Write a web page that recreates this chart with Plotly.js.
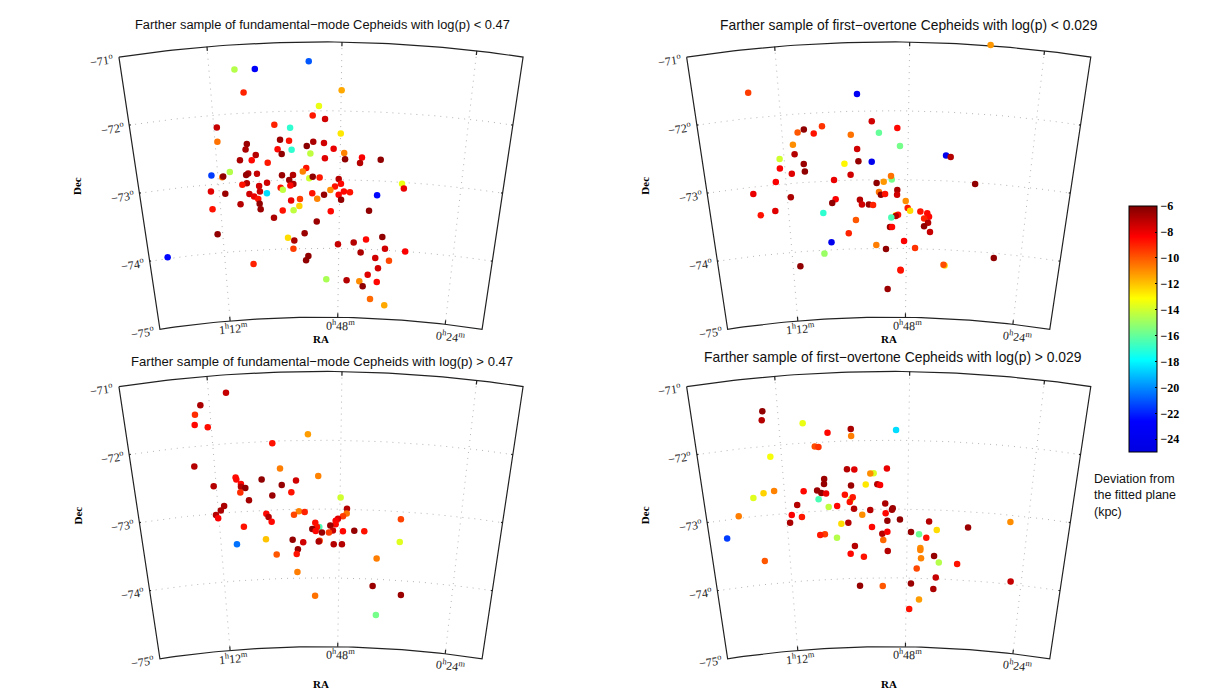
<!DOCTYPE html>
<html>
<head>
<meta charset="utf-8">
<script src="https://cdn.plot.ly/plotly-3.0.1.min.js"></script>
<style>body{margin:0;background:#fff}</style>
</head>
<body>
<div id="chart" style="width:1207px;height:700px"></div>
<script>
// RA in degrees, Dec in degrees, deviation in kpc
const raA = [17.05,16.08,13.51,16.68,11.93,13.03,13.34,12.73,15.25,14.47,18.11,11.94,18.14,16.67,14.99,14.54,13.32,12.78,13.65,16.75,15.13,14.42,12.29,11.75,13.47,14.93,16.25,17.07,16.47,12.73,11.70,10.84,9.88,10.93,15.66,13.69,13.87,17.63,18.59,18.04,17.99,16.69,16.80,16.24,14.95,14.38,14.58,13.54,13.36,13.00,12.01,11.89,12.20,8.71,8.60,16.79,17.03,16.16,15.74,14.37,14.53,15.04,14.93,18.69,17.95,16.13,16.69,15.77,16.45,13.39,12.77,12.44,12.00,11.73,11.41,9.98,13.13,16.24,14.51,14.04,11.87,18.69,17.19,16.18,16.14,15.45,14.97,14.08,14.39,12.41,10.37,13.16,18.54,13.82,14.73,14.39,14.45,12.00,11.14,10.47,9.59,9.41,10.74,8.29,9.92,9.15,9.74,13.63,13.76,21.39,16.69,12.63,11.48,10.76,10.30,9.77,10.56,10.11,9.27];
const decA = [-71.36,-71.37,-71.28,-71.70,-71.70,-71.93,-72.07,-72.12,-72.19,-72.24,-72.18,-72.33,-72.39,-72.45,-72.41,-72.43,-72.45,-72.47,-72.51,-72.53,-72.55,-72.56,-72.55,-72.61,-72.62,-72.62,-72.62,-72.68,-72.69,-72.69,-72.70,-72.67,-72.69,-72.75,-72.74,-72.83,-72.88,-72.84,-72.87,-72.91,-72.90,-72.88,-72.90,-72.89,-72.93,-72.93,-73.00,-72.98,-72.96,-72.97,-72.99,-73.06,-73.10,-73.02,-73.09,-73.02,-73.04,-73.07,-73.03,-73.06,-73.08,-73.11,-73.14,-73.10,-73.15,-73.15,-73.18,-73.18,-73.22,-73.20,-73.22,-73.15,-73.22,-73.17,-73.18,-73.21,-73.28,-73.26,-73.30,-73.28,-73.29,-73.36,-73.32,-73.33,-73.41,-73.54,-73.44,-73.38,-73.44,-73.46,-73.44,-73.61,-73.73,-73.78,-73.84,-73.88,-74.00,-73.94,-73.91,-73.86,-73.81,-73.98,-74.05,-74.00,-74.12,-74.15,-74.27,-74.11,-74.17,-73.98,-74.20,-74.45,-74.46,-74.47,-74.37,-74.47,-74.54,-74.72,-74.80];
const devA = [-14.5,-23,-21,-9,-11.5,-13.5,-8.8,-7.5,-9,-17,-7.3,-12.7,-10.5,-6.5,-6.5,-8.7,-6.8,-7.5,-6.2,-6.8,-8.5,-17,-8,-10.8,-14.3,-6.3,-7,-6.8,-8.5,-7.8,-6.3,-8.3,-6.3,-7,-8.8,-8.7,-10.8,-14.5,-21.5,-10.5,-6.3,-6.8,-6.4,-7.3,-6.5,-7,-6.5,-14,-6.3,-8.8,-7,-8.5,-8.7,-13.5,-8,-7,-8.7,-7.5,-7.5,-6.8,-8.5,-8.7,-14.3,-7.8,-6.5,-7.3,-7.5,-18.5,-8,-8.7,-6.4,-11,-8.3,-8.5,-8.7,-22.5,-10.8,-8.7,-8,-9.5,-6.3,-8.7,-7,-6.3,-6.5,-6.8,-8.7,-12.3,-14.3,-8.5,-6.3,-6.5,-6.3,-6.5,-12.5,-6.8,-9.5,-7.3,-7,-8.5,-6.3,-7.5,-6.8,-8.3,-7.5,-9.7,-7.5,-6.3,-6.3,-22.5,-9,-14.7,-7,-11,-7.8,-8.5,-6.3,-10.3,-11.5];

const raB = [8.17,19.72,14.47,13.77,12.50,16.25,17.16,17.48,16.68,14.83,13.42,17.76,12.36,14.53,17.71,10.01,9.77,18.49,14.48,13.80,15.20,17.28,18.52,17.25,17.93,14.90,12.77,12.81,15.77,18.79,13.19,13.56,8.43,12.48,12.49,13.44,13.34,13.12,20.02,18.08,12.03,15.73,15.92,14.45,14.35,13.98,13.76,11.92,11.79,11.24,10.87,18.96,19.75,16.42,10.77,11.03,12.55,12.43,12.55,12.79,14.69,10.81,11.02,12.86,12.75,10.69,15.10,12.09,16.06,13.61,13.08,11.48,16.48,7.11,17.86,9.81,9.87,12.27,12.26,12.99];
const decB = [-70.99,-71.63,-71.75,-72.15,-72.25,-72.20,-72.23,-72.27,-72.30,-72.34,-72.32,-72.44,-72.51,-72.55,-72.58,-72.63,-72.65,-72.63,-72.73,-72.74,-72.76,-72.73,-72.77,-72.84,-72.86,-72.92,-73.00,-72.95,-72.99,-72.96,-73.03,-73.05,-73.02,-73.15,-73.22,-73.18,-73.22,-73.21,-73.10,-73.20,-73.31,-73.27,-73.32,-73.29,-73.36,-73.36,-73.37,-73.41,-73.45,-73.46,-73.48,-73.38,-73.42,-73.46,-73.53,-73.56,-73.52,-73.51,-73.53,-73.55,-73.58,-73.62,-73.67,-73.69,-73.69,-73.75,-73.77,-73.89,-73.89,-73.95,-74.01,-73.99,-74.05,-74.07,-74.21,-74.23,-74.22,-74.31,-74.32,-74.59];
const devB = [-11.2,-9.5,-23.5,-7.5,-8.5,-9.3,-6.3,-10,-8.7,-10.5,-16,-11,-15.7,-7.5,-7,-24,-7,-14,-6.4,-24,-13,-6.5,-8.3,-6.3,-7.8,-7.5,-15.7,-10.5,-8,-8.3,-11.2,-6.3,-6.3,-6.8,-7.5,-10.5,-6.3,-8.7,-8,-6.8,-11,-8.3,-6.3,-7,-7.5,-6.5,-9,-8.8,-12.5,-8.7,-8.5,-7.8,-8.7,-17,-8.5,-9,-12.5,-8.7,-7,-16.5,-10,-7,-6.3,-6.5,-8.5,-7.3,-9,-8.3,-24,-10.7,-6.3,-9.3,-15,-6.3,-6.3,-12.5,-9.8,-8.5,-8.7,-6.5];

const raC = [17.43,18.69,18.99,19.05,18.43,13.57,15.33,19.27,14.99,13.07,14.20,15.94,17.25,17.22,17.00,17.01,16.79,17.06,18.39,14.93,14.45,15.43,16.64,11.92,17.94,18.13,18.40,18.30,15.78,15.67,15.52,16.99,14.08,14.34,13.78,11.58,11.59,11.78,12.04,12.16,12.16,12.44,8.75,13.02,13.23,13.14,13.39,13.21,12.88,12.30,12.51,11.77,11.17,10.64,14.44,15.86,13.88,17.42,13.00,13.05,12.25,11.81,8.73,15.32,14.17,14.24,9.92,14.22,10.07,8.47,13.26,9.81];
const decC = [-71.26,-71.41,-71.54,-71.69,-71.74,-71.91,-72.03,-72.29,-72.40,-72.52,-72.58,-72.55,-72.50,-72.53,-72.60,-72.64,-72.66,-72.72,-72.60,-72.64,-72.75,-72.79,-72.84,-72.83,-72.90,-72.96,-73.02,-73.07,-73.05,-73.10,-73.17,-73.22,-73.03,-73.08,-73.04,-72.99,-73.06,-73.10,-73.14,-73.17,-73.22,-73.24,-73.11,-73.26,-73.20,-73.26,-73.29,-73.32,-73.34,-73.31,-73.34,-73.32,-73.31,-73.31,-73.44,-73.42,-73.48,-73.47,-73.46,-73.47,-73.51,-73.51,-73.44,-73.65,-73.58,-73.65,-73.70,-73.91,-74.10,-74.21,-74.26,-74.52];
const devC = [-7.3,-6.8,-9.2,-8.5,-8.6,-11.3,-8.7,-7,-10.7,-10.8,-7.5,-6.3,-8.6,-8.5,-8.5,-7,-6.3,-9.2,-7,-6.4,-8.7,-6.5,-6.7,-14,-6.8,-6.8,-7,-8.3,-8.5,-7,-8.5,-8.7,-10.8,-9.7,-9,-7,-10.5,-9.5,-7.7,-8.3,-8.5,-6.5,-9.6,-16.5,-8.6,-8.7,-6.3,-8.5,-6.5,-7.3,-9.5,-8.5,-6.4,-8.7,-6.4,-12,-7.5,-20.5,-9.7,-6.8,-7,-7,-13.7,-10,-6.5,-8.7,-10.7,-10.7,-6.5,-6.5,-10.5,-15.7];

const raD = [18.99,19.06,17.10,15.92,14.78,14.77,12.57,16.58,16.40,18.81,15.03,14.66,13.02,13.69,13.86,16.20,16.22,14.85,14.10,13.51,13.37,18.78,19.33,19.87,17.28,16.59,16.38,16.14,15.18,14.87,14.78,14.94,16.54,17.66,16.04,15.60,14.73,13.89,13.11,12.72,12.76,13.09,14.31,20.73,17.98,17.46,18.10,15.42,15.05,13.00,12.34,10.81,6.56,8.75,13.81,10.39,11.75,11.32,13.27,13.00,10.93,16.31,16.56,15.68,21.48,13.22,14.74,14.98,14.27,12.98,11.23,11.23,10.48,11.18,10.21,9.21,19.63,11.40,10.34,6.22,14.52,13.26,11.70,10.45,11.23,11.77];
const decD = [-71.49,-71.62,-71.71,-71.87,-71.83,-71.93,-71.85,-72.06,-72.07,-72.16,-72.41,-72.42,-72.41,-72.48,-72.48,-72.54,-72.61,-72.65,-72.64,-72.64,-72.65,-72.66,-72.68,-72.73,-72.70,-72.70,-72.74,-72.75,-72.78,-72.85,-72.82,-72.89,-72.83,-72.89,-72.95,-72.94,-72.99,-73.01,-72.92,-72.99,-73.01,-73.06,-73.08,-72.97,-73.03,-73.07,-73.14,-73.20,-73.19,-73.17,-73.15,-73.17,-73.10,-73.23,-73.26,-73.29,-73.33,-73.36,-73.36,-73.33,-73.41,-73.34,-73.35,-73.40,-73.27,-73.45,-73.53,-73.64,-73.69,-73.61,-73.56,-73.59,-73.67,-73.71,-73.76,-73.77,-73.66,-73.86,-73.98,-73.96,-74.11,-74.12,-74.08,-74.15,-74.31,-74.45];
const devD = [-6.3,-7,-13.5,-8.5,-6.8,-10.7,-18.5,-9.8,-9.3,-13.3,-7,-7.8,-8,-13.8,-11,-6.5,-6.4,-6.5,-12.7,-7,-8.3,-10.8,-12.3,-13.7,-8.5,-6.5,-6.4,-8,-8.7,-14,-8.8,-8.7,-16.5,-7,-14.3,-8.5,-7,-7,-6.8,-6.5,-6.6,-8.5,-11,-10.7,-8.3,-8.8,-6.8,-12.5,-7,-6.4,-6.3,-7,-11,-6.5,-8.5,-12.5,-6.4,-15.8,-7,-8.3,-8.7,-9.5,-8.8,-14.5,-21.5,-10.3,-7,-8.5,-8.7,-7,-11,-10.8,-6.4,-10.8,-14.5,-8.7,-10,-9.7,-7.3,-7.3,-6.4,-10,-6.5,-6.8,-11.3,-8.7];

const titles = [
  'Farther sample of fundamental\u2212mode Cepheids with log(p) < 0.47',
  'Farther sample of first\u2212overtone Cepheids with log(p) < 0.029',
  'Farther sample of fundamental\u2212mode Cepheids with log(p) > 0.47',
  'Farther sample of first\u2212overtone Cepheids with log(p) > 0.029',
];
const decTicks = [-71, -72, -73, -74, -75];
// meridians of 1h12m, 0h48m, 0h24m on the scale the star positions were read with
const raTicks = [18.26, 11.95, 5.64];
const raTickText = ['1<sup>h</sup>12<sup>m</sup>', '0<sup>h</sup>48<sup>m</sup>', '0<sup>h</sup>24<sup>m</sup>'];
const cbTicks = [-6, -8, -10, -12, -14, -16, -18, -20, -22, -24];
const jet = [[0, 'rgb(0,0,225)'], [0.125, 'rgb(0,0,255)'], [0.375, 'rgb(0,255,255)'],
  [0.625, 'rgb(255,255,0)'], [0.875, 'rgb(255,0,0)'], [1, 'rgb(128,0,0)']];

// conic projection, pole below the map
const RA0 = 12.93, RA_HALF = 9.47, CONE = 0.905, R71 = 19.71;
const SCALE = 68.8; // px per projected degree
const W = 1207, H = 700;

function project(ra, dec) {
  const th = (ra - RA0) * CONE * Math.PI / 180;
  const r = R71 + (dec + 71);
  return [-r * Math.sin(th), r * Math.cos(th)];
}

function line(pts, axN, style) {
  return {
    x: pts.map((p) => project(p[0], p[1])[0]),
    y: pts.map((p) => project(p[0], p[1])[1]),
    xaxis: 'x' + axN, yaxis: 'y' + axN,
    mode: 'lines', line: style, hoverinfo: 'skip', showlegend: false,
  };
}

function parallel(dec, ra1, ra2) {
  const pts = [];
  for (let i = 0; i <= 60; i++) pts.push([ra1 + (ra2 - ra1) * i / 60, dec]);
  return pts;
}

const raL = RA0 + RA_HALF, raR = RA0 - RA_HALF;
const frameStyle = { color: '#222', width: 1.2 };
const gridStyle = { color: '#b4b4b4', width: 1, dash: '1px,5px' };

const panels = [
  { cx: 321, pole: 1398, ra: raA, dec: decA, dev: devA, tx: 322, ty: 25, ts: 12.85, ray: 339 },
  { cx: 888.7, pole: 1398, ra: raB, dec: decB, dev: devB, tx: 909, ty: 25, ts: 13.86, ray: 339 },
  { cx: 321, pole: 1727.5, ra: raC, dec: decC, dev: devC, tx: 321.5, ty: 361, ts: 13.1, ray: 684 },
  { cx: 888.7, pole: 1727.5, ra: raD, dec: decD, dev: devD, tx: 893, ty: 356.7, ts: 13.86, ray: 684 },
];
const raLabelDx = [3, 2.5, 5];
const raLabelDy = [8, 8, 12];

const traces = [];
const annotations = [];
const layout = {
  width: W, height: H, autosize: false,
  margin: { l: 0, r: 0, t: 0, b: 0 },
  paper_bgcolor: '#fff', plot_bgcolor: 'rgba(0,0,0,0)',
  showlegend: false,
  font: { family: 'Liberation Sans', color: '#000' },
};

const tickFont = { family: 'Liberation Serif', size: 12, color: '#222' };
const labelFont = { family: 'Liberation Serif', size: 11, color: '#000' };

function paperNote(x, y, text, font, extra) {
  annotations.push(Object.assign({
    x: x / W, y: 1 - y / H, xref: 'paper', yref: 'paper',
    xanchor: 'center', yanchor: 'middle', showarrow: false, text, font,
  }, extra || {}));
}

panels.forEach((p, i) => {
  const n = i + 1;
  const suffix = n === 1 ? '' : n;
  const top = p.pole - 1398 + 30, bottom = top + 310;
  const x0 = p.cx - 240, x1 = p.cx + 240;
  layout['xaxis' + suffix] = {
    visible: false, fixedrange: true,
    domain: [x0 / W, x1 / W],
    range: [(x0 - p.cx) / SCALE, (x1 - p.cx) / SCALE],
    anchor: 'y' + suffix,
  };
  layout['yaxis' + suffix] = {
    visible: false, fixedrange: true,
    domain: [1 - bottom / H, 1 - top / H],
    range: [(p.pole - bottom) / SCALE, (p.pole - top) / SCALE],
    anchor: 'x' + suffix,
  };
  const ax = suffix;

  // graticule
  decTicks.slice(1, 4).forEach((d) => {
    traces.push(line(parallel(d, raL, raR), ax, gridStyle));
    traces.push(line(parallel(d, raL, raL - 0.08), ax, frameStyle));
    traces.push(line(parallel(d, raR + 0.08, raR), ax, frameStyle));
  });
  raTicks.forEach((ra) => {
    traces.push(line([[ra, -71], [ra, -75]], ax, gridStyle));
    traces.push(line([[ra, -71], [ra, -71.06]], ax, frameStyle));
    traces.push(line([[ra, -75], [ra, -74.94]], ax, frameStyle));
  });

  // frame
  const frame = parallel(-71, raL, raR).concat(parallel(-75, raR, raL));
  frame.push([raL, -71]);
  traces.push(line(frame, ax, frameStyle));

  // stars
  const xy = p.ra.map((ra, k) => project(ra, p.dec[k]));
  const marker = {
    size: 6.5, color: p.dev, cmin: -25, cmax: -6, colorscale: jet,
    line: { width: 0 },
  };
  if (n === 1) {
    marker.showscale = true;
    marker.colorbar = {
      x: 1129.3 / W, xanchor: 'left', xpad: 0,
      y: (H - 452.2) / H, yanchor: 'bottom', ypad: 0,
      lenmode: 'pixels', len: 246.2,
      thicknessmode: 'pixels', thickness: 28,
      outlinewidth: 1, outlinecolor: '#000',
      tickmode: 'array', tickvals: cbTicks, ticktext: cbTicks.map((v) => '\u2212' + Math.abs(v)),
      ticks: 'inside', ticklen: 2, tickcolor: '#000',
      tickfont: { family: 'Liberation Serif', size: 12, color: '#000', weight: 'bold' },
    };
  }
  traces.push({
    x: xy.map((q) => q[0]), y: xy.map((q) => q[1]),
    xaxis: 'x' + ax, yaxis: 'y' + ax,
    mode: 'markers', marker, showlegend: false,
    hovertemplate: 'Dev %{marker.color} kpc<extra></extra>',
  });

  // tick labels
  decTicks.forEach((d) => {
    const q = project(raL, d);
    annotations.push({
      x: q[0], y: q[1], xref: 'x' + ax, yref: 'y' + ax, showarrow: false,
      xanchor: 'center', yanchor: 'middle',
      text: '\u2212' + Math.abs(d) + '<sup>o</sup>', font: tickFont,
      textangle: -8.5, xshift: -17, yshift: -3,
    });
  });
  raTicks.forEach((ra, k) => {
    const q = project(ra, -75);
    annotations.push({
      x: q[0], y: q[1], xref: 'x' + ax, yref: 'y' + ax, showarrow: false,
      xanchor: 'center', yanchor: 'middle',
      text: raTickText[k], font: tickFont,
      textangle: (RA0 - ra) * CONE, xshift: raLabelDx[k], yshift: -raLabelDy[k],
    });
  });

  // titles and axis names
  paperNote(p.tx, p.ty, titles[i], { family: 'Liberation Sans', size: p.ts, color: '#111' });
  paperNote(p.cx, p.ray, '<b>RA</b>', labelFont);
  paperNote(p.cx - 244, p.pole - 1398 + 186, '<b>Dec</b>', labelFont, { textangle: -90 });
});

paperNote(1092, 495.5, 'Deviation from<br>the fitted plane<br>(kpc)',
  { family: 'Liberation Sans', size: 12.5, color: '#111' }, { xanchor: 'left', align: 'left' });
layout.annotations = annotations;

Plotly.newPlot('chart', traces, layout, { staticPlot: true, displayModeBar: false });
</script>
</body>
</html>
